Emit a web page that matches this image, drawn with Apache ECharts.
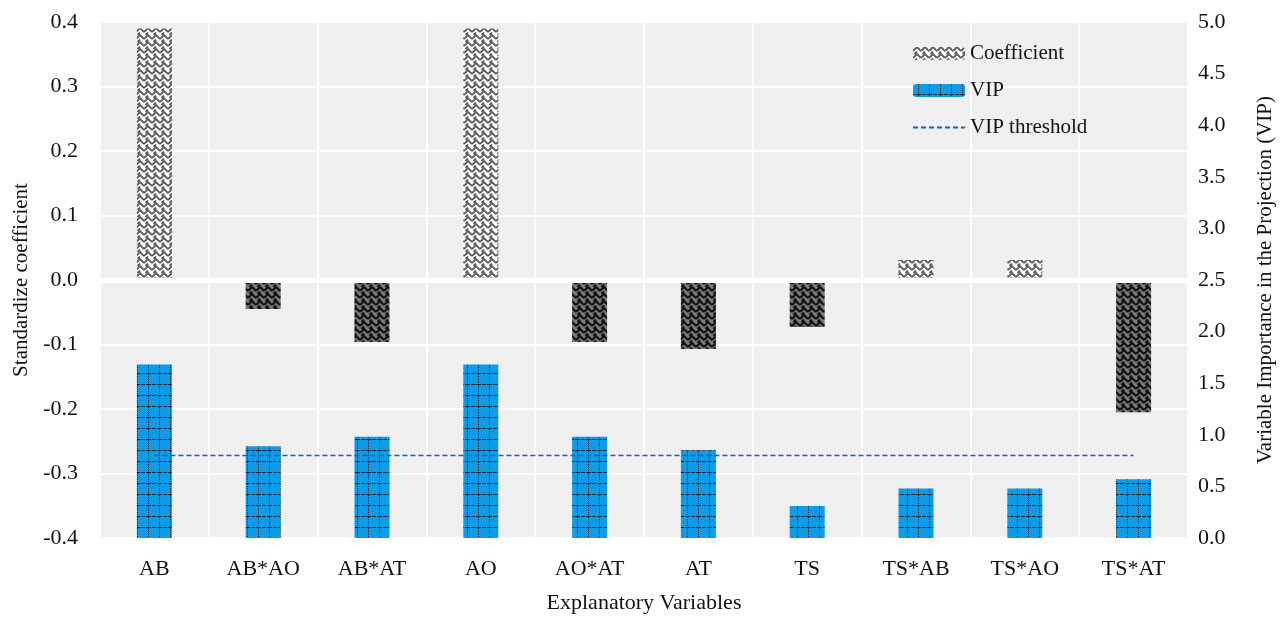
<!DOCTYPE html>
<html>
<head>
<meta charset="utf-8">
<script src="https://cdn.jsdelivr.net/npm/echarts@6/dist/echarts.min.js"></script>
<style>
  html, body { margin: 0; padding: 0; background: #fff; }
  #main { width: 1282px; height: 618px; }
</style>
</head>
<body>
<div id="main"></div>
<script>
// categories and values
var categories = ['AB', 'AB*AO', 'AB*AT', 'AO', 'AO*AT', 'AT', 'TS', 'TS*AB', 'TS*AO', 'TS*AT'];
var coefficient = [0.39, -0.045, -0.096, 0.39, -0.096, -0.107, -0.073, 0.031, 0.031, -0.205];
var vip = [1.68, 0.89, 0.98, 1.68, 0.98, 0.85, 0.31, 0.48, 0.48, 0.57];
var vipThreshold = [0.8, 0.8, 0.8, 0.8, 0.8, 0.8, 0.8, 0.8, 0.8, 0.8];
var leftTicks = { min: -0.4, max: 0.4, interval: 0.1 };
var rightTicks = { min: 0, max: 5, interval: 0.5 };

// herringbone-ish pattern for coefficient bars
function herring(bg, fg, lw) {
    var c = document.createElement('canvas');
    c.width = 8; c.height = 7;
    var ctx = c.getContext('2d');
    ctx.fillStyle = bg;
    ctx.fillRect(0, 0, 8, 7);
    ctx.strokeStyle = fg;
    ctx.lineWidth = lw;
    for (var y = -7; y <= 7; y += 7) {
        ctx.beginPath();
        ctx.moveTo(0, y + 4);
        ctx.lineTo(4, y);
        ctx.lineTo(8, y + 4);
        ctx.stroke();
        // short broken stroke between chevrons
        ctx.beginPath();
        ctx.moveTo(1.5, y + 7);
        ctx.lineTo(4, y + 4.5);
        ctx.stroke();
    }
    return c;
}

// blue with dotted grid for VIP bars
function vipGrid() {
    var c = document.createElement('canvas');
    c.width = 11; c.height = 11;
    var ctx = c.getContext('2d');
    ctx.fillStyle = '#0f9be6';
    ctx.fillRect(0, 0, 11, 11);
    ctx.fillStyle = '#0b2433';
    for (var i = 0; i < 11; i++) {
        if (i % 3 !== 2) ctx.fillRect(i, 10, 1, 1);   // horizontal dashed
        if (i % 2 === 0) ctx.fillRect(5, i, 1, 1);    // vertical dotted
    }
    return c;
}

var lightPat = { image: herring('#ffffff', '#5a5a5a', 1.8), repeat: 'repeat' };
var darkPat = { image: herring('#7a7a7a', '#111111', 2.2), repeat: 'repeat' };
var vipPat = { image: vipGrid(), repeat: 'repeat' };

var coefData = coefficient.map(function (v) {
    return { value: v, itemStyle: { color: v >= 0 ? lightPat : darkPat } };
});

var serif = '"Liberation Serif", "DejaVu Serif", serif';

var chart = echarts.init(document.getElementById('main'));
var option = {
    animation: false,
    textStyle: { fontFamily: serif },
    grid: {
        left: 100, right: 94, top: 22, bottom: 80,
        outerBoundsMode: 'none',
        containLabel: false,
        show: true, backgroundColor: '#efefef', borderWidth: 0
    },
    legend: {
        orient: 'vertical',
        left: 907, top: 38,
        itemWidth: 52, itemHeight: 13,
        itemGap: 16,
        textStyle: { fontFamily: serif, fontSize: 21, color: '#111' },
        data: ['Coefficient', 'VIP', { name: 'VIP threshold', itemStyle: { opacity: 0 } }]
    },
    xAxis: {
        type: 'category',
        data: categories,
        name: 'Explanatory Variables',
        nameLocation: 'middle',
        nameGap: 54,
        nameTextStyle: { fontFamily: serif, fontSize: 22, color: '#111' },
        axisLine: { show: false },
        axisTick: { show: false },
        axisLabel: { fontFamily: serif, fontSize: 22, color: '#111', margin: 20 },
        splitLine: { show: true, lineStyle: { color: '#ffffff', width: 2 } }
    },
    yAxis: [{
        type: 'value',
        min: leftTicks.min, max: leftTicks.max, interval: leftTicks.interval,
        name: 'Standardize coefficient',
        nameLocation: 'middle',
        nameGap: 67,
        nameTextStyle: { fontFamily: serif, fontSize: 21, color: '#111' },
        axisLine: { show: false },
        axisTick: { show: false },
        axisLabel: {
            fontFamily: serif, fontSize: 22, color: '#111', margin: 22,
            formatter: function (v) { return v.toFixed(1); }
        },
        splitLine: { show: true, lineStyle: { color: '#ffffff', width: 2 } }
    }, {
        type: 'value',
        min: rightTicks.min, max: rightTicks.max, interval: rightTicks.interval,
        name: 'Variable Importance in the Projection (VIP)',
        nameLocation: 'middle',
        nameGap: 67,
        nameRotate: 90,
        nameTextStyle: { fontFamily: serif, fontSize: 21, color: '#111' },
        axisLine: { show: false },
        axisTick: { show: false },
        axisLabel: {
            fontFamily: serif, fontSize: 22, color: '#111', margin: 10,
            formatter: function (v) { return v.toFixed(1); }
        },
        splitLine: { show: false }
    }],
    series: [{
        name: 'Coefficient',
        type: 'bar',
        yAxisIndex: 0,
        barWidth: 35,
        barGap: '-100%',
        itemStyle: { color: lightPat },
        data: coefData,
        markLine: {
            silent: true,
            symbol: 'none',
            label: { show: false },
            lineStyle: { color: '#ffffff', width: 5, type: 'solid' },
            data: [{ yAxis: 0 }]
        }
    }, {
        name: 'VIP',
        type: 'bar',
        yAxisIndex: 1,
        barWidth: 35,
        barGap: '-100%',
        itemStyle: { color: vipPat },
        data: vip
    }, {
        name: 'VIP threshold',
        type: 'line',
        yAxisIndex: 1,
        symbol: 'none',
        showSymbol: false,
        lineStyle: { color: '#1f5fae', width: 1.6, type: [5, 3] },
        itemStyle: { color: '#1f5fae' },
        data: vipThreshold
    }]
};
chart.setOption(option);
</script>
</body>
</html>
